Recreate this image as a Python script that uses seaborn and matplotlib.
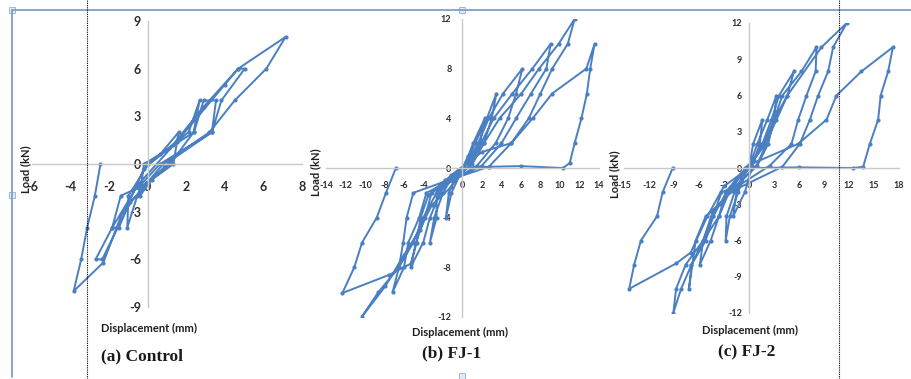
import pandas as pd
import seaborn as sns
import matplotlib.pyplot as plt
from matplotlib.lines import Line2D
from matplotlib.patches import Rectangle

# ---- data (displacement mm, load kN) ----
ctrl_disp = [0, 0.64, 1.6, 1.33, 0.2, -0.4, -0.2,
             0.9, 2.12, 2.69, 2.38, 1.16, -0.3, -0.54, -1.06, -1.0, 0.03,
             1.1, 2.4, 2.9, 3.54, 3.33, 0.64, -0.5, -1.4, -1.84, -1.49, -1.0, -0.2,
             1.3, 2.9, 4.69, 5.03, 3.82, 3.33, 1.16, -0.9, -2.36, -2.7, -1.84, -0.5,
             1.5, 4.0, 4.69, 7.15, 6.15, 4.51, 3.2, 0.8, -1.3, -2.3, -3.84, -3.45, -3.14, -2.74, -2.45]
ctrl_load = [0, 0.6, 2, 0, -1.0, -2, 0,
             0.8, 2, 4, 2, 0, -1.4, -2, -4, -2, 0,
             1.0, 2, 4, 4, 2, 0, -1.5, -2, -4, -4, -2.5, -0.3,
             1.2, 3.6, 6, 6, 4, 2, 0.2, -2.4, -6, -6, -4, -1.3,
             1.4, 5, 6, 8, 6, 4, 2, 0, -3, -6.2, -8, -6, -4, -2, 0]

fj1_disp = [0, 0.6, 1.1, 2.29, 1.8, 0.8, -0.3, -1.13, -1.7, -1.4, -0.6,
            0.4, 1.3, 2.5, 3.48, 3.0, 2.2, 1.0, -0.8, -2.66, -2.66, -3.34, -2.9, -2.0, -0.9,
            0.5, 1.6, 2.7, 4.16, 6.14, 5.5, 4.68, 3.4, 1.5, -1.0, -3.17, -3.86, -4.78, -5.32,
            -4.03, -3.34, -2.3, -1.0,
            0.6, 1.9, 3.2, 5.12, 7.17, 9.04, 8.6, 7.03, 5.5, 4.0, 2.0, -1.2, -3.7, -4.44, -5.56,
            -6.0, -7.17, -6.52, -5.05, -4.03, -2.66, -1.2,
            0.8, 2.2, 3.8, 6.04, 7.85, 9.86, 11.5, 10.8, 9.2, 8.0, 6.8, 5.0, 2.7, -1.5, -5.05,
            -5.73, -6.08, -6.52, -8.63, -10.34, -7.9, -6.0, -4.4, -3.17, -1.13,
            0.2, 2.0, 5.0, 7.2, 9.2, 12.7, 13.55, 13.1, 12.76, 12.2, 11.5, 11.0, 10.3, 6.0, 2.7,
            0, -1.8, -3.5, -4.3, -4.7, -5.3, -7.5, -12.32, -11.1, -10.3, -8.8, -7.85, -6.83]
fj1_load = [0, 1, 2, 4, 2, 0.3, -0.6, -2, -4, -2, -0.4,
            0.4, 2, 4, 6, 4, 2, 0.3, -0.8, -2, -4, -6, -4, -2, -0.5,
            0.4, 2, 4, 6, 8, 6, 4, 2, 0.2, -1, -2, -4, -6, -8,
            -6, -4, -2, -0.6,
            0.5, 2, 4, 6, 8, 10, 8, 6, 4, 2, 0.2, -1, -2, -4, -6,
            -8, -10, -8, -6, -4, -2, -0.6,
            0.6, 2, 4, 6, 8, 10, 12, 10, 8, 6, 4, 2, 0.1, -1, -2,
            -4, -6, -8, -10, -12, -9.5, -7, -5, -3, -1.5,
            0.2, 1.3, 2, 4, 6, 8, 10, 8, 6, 4, 2, 0.4, 0, 0.15, 0.1,
            0, -1, -2.2, -4, -6, -7.7, -8.6, -10.07, -8, -6, -4, -2, 0]

fj2_disp = [0, 0.5, 1.6, 1.3, 0.4, -0.5, -1.9, -1.5, -0.5,
            0.2, 1.0, 2.2, 3.3, 3.0, 2.1, 0.9, -1.5, -2.7, -2.8, -2.3, -1.3, -0.3,
            0.4, 1.6, 2.7, 3.6, 5.4, 4.6, 3.0, 2.3, 1.0, -1.8, -3.3, -4.3, -5.5, -5.9,
            -4.6, -3.6, -2.4, -0.6,
            0.5, 1.8, 3.0, 4.0, 6.3, 8.1, 8.0, 6.9, 5.9, 5.1, 2.5, -2.0, -3.5, -5.2, -6.4,
            -7.2, -6.9, -5.2, -4.3, -2.7, -1.0,
            0.6, 2.0, 3.3, 4.6, 8.7, 11.73, 10.1, 9.5, 8.3, 7.3, 6.1, 4.0, -2.0, -4.3, -5.5,
            -7.6, -8.75, -9.08, -8.15, -6.9, -5.5, -3.6, -2.8, -1.0,
            0.2, 5.9, 9.3, 10.5, 13.5, 17.27, 16.7, 15.8, 15.5, 14.5, 13.7, 12.45, 6.0, 0,
            -3.0, -5.0, -7.0, -8.75, -14.38, -13.78, -12.97, -11.04, -10.36, -9.16]
fj2_load = [0, 2, 4, 2, 0.2, -2, -4, -2, 0,
            0.4, 2, 4, 6, 4, 2, 0.2, -1.5, -4, -6, -4, -2, -0.2,
            0.5, 2, 4, 6, 8, 6, 4, 2, 0.2, -1.6, -2, -4, -6, -8,
            -6, -4, -2, -0.3,
            0.6, 2, 4, 6, 8, 10, 8, 6, 4, 2, 0.2, -1.8, -3, -4, -6,
            -10, -8, -6, -4, -2, -0.5,
            0.7, 2, 4, 6, 10, 12, 10, 8, 6, 4, 2, 0.1, -1.9, -3.5, -6,
            -8, -10, -12, -10, -8, -6, -4, -2, -0.5,
            0.3, 2, 4, 6, 8, 10, 8, 6, 4, 2, 0.1, 0, 0.05, 0,
            -1.5, -4, -7, -7.9, -10, -8, -6, -4, -2, 0]

BLUE = '#4a7fc1'
W, H = 912, 379

sns.set_style('white')
plt.rcParams['font.family'] = ['Lato', 'DejaVu Sans']
plt.rcParams['axes.unicode_minus'] = False

fig = plt.figure(figsize=(W / 100, H / 100), dpi=100)


def fx(px):
    return px / W


def fy(py):
    return 1 - py / H


panels = [
    dict(x=ctrl_disp, y=ctrl_load, box=(32, 302, 21, 307), xlim=(-6, 8), ylim=(-9, 9),
         xt=range(-6, 9, 2), yt=range(-9, 10, 3), fs=9, xpad=9, ypad=5,
         ylab=(26, 169), xlab=(149, 328), cap=(142, 356, '(a) Control')),
    dict(x=fj1_disp, y=fj1_load, box=(326, 599, 19, 317), xlim=(-14, 14), ylim=(-12, 12),
         xt=range(-14, 15, 2), yt=range(-12, 13, 4), fs=6.5, xpad=6, ypad=8,
         ylab=(316, 172), xlab=(460, 332), cap=(452, 353, '(b) FJ-1')),
    dict(x=fj2_disp, y=fj2_load, box=(624, 899, 23, 313), xlim=(-15, 18), ylim=(-12, 12),
         xt=range(-15, 19, 3), yt=range(-12, 13, 3), fs=6.5, xpad=6, ypad=5,
         ylab=(615, 174), xlab=(750, 330), cap=(747, 352, '(c) FJ-2')),
]

for p in panels:
    x0, x1, y0, y1 = p['box']
    ax = fig.add_axes([fx(x0), fy(y1), (x1 - x0) / W, (y1 - y0) / H])
    ax.patch.set_alpha(0)
    df = pd.DataFrame({'disp': p['x'], 'load': p['y']})
    sns.lineplot(data=df, x='disp', y='load', sort=False, estimator=None, ax=ax,
                 color=BLUE, lw=1.4, marker='o', markersize=3, markeredgewidth=0)
    ax.set_xlim(p['xlim'])
    ax.set_ylim(p['ylim'])
    ax.set_xticks(list(p['xt']))
    ax.set_yticks(list(p['yt']))
    ax.set_xlabel('')
    ax.set_ylabel('')
    for s in ['top', 'right']:
        ax.spines[s].set_visible(False)
    for s in ['left', 'bottom']:
        ax.spines[s].set_position('zero')
        ax.spines[s].set_color('#c9c9c9')
        ax.spines[s].set_linewidth(1.0)
    ax.tick_params(axis='x', direction='out', length=3, color='#c9c9c9',
                   labelsize=p['fs'], labelcolor='#2e2e2e', pad=p['xpad'])
    ax.tick_params(axis='y', direction='in', length=3, color='#c9c9c9',
                   labelsize=p['fs'], labelcolor='#2e2e2e', pad=p['ypad'])
    for t in ax.get_xticklabels() + ax.get_yticklabels():
        t.set_fontweight('bold')

    fig.text(fx(p['ylab'][0]), fy(p['ylab'][1]), 'Load (kN)', rotation=90,
             ha='center', va='center', fontsize=8, fontweight='bold', color='#1f1f1f')
    fig.text(fx(p['xlab'][0]), fy(p['xlab'][1]), 'Displacement (mm)',
             ha='center', va='center', fontsize=8, fontweight='bold', color='#1f1f1f')
    fig.text(fx(p['cap'][0]), fy(p['cap'][1]), p['cap'][2], ha='center', va='center',
             fontsize=12.5, fontweight='bold', color='#1a1a1a',
             family=['Liberation Serif', 'DejaVu Serif'])

# frame of the pasted figure
FRAME = '#7f9fc8'
fig.add_artist(Line2D([fx(12), 1], [fy(10), fy(10)], color=FRAME, lw=1.3))
fig.add_artist(Line2D([fx(12), fx(12)], [fy(10), fy(377)], color=FRAME, lw=1.3))
for hx, hy in [(12, 10), (12, 195), (462, 10), (462, 376)]:
    fig.add_artist(Rectangle((fx(hx - 3), fy(hy + 3)), 6 / W, 6 / H, facecolor='#dfeaf6',
                             edgecolor='#8fb0d8', lw=0.6))

# dotted guide lines
for gx in [87, 839]:
    fig.add_artist(Line2D([fx(gx), fx(gx)], [0, 1], color='black', lw=0.8, ls=(0, (1, 1))))

fig.savefig('out.png', dpi=100, facecolor='white')
